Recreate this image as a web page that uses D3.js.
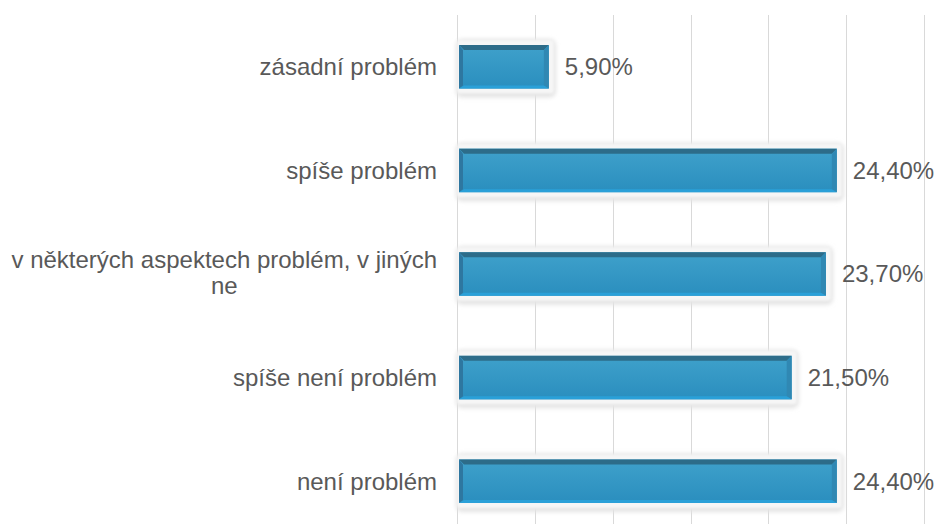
<!DOCTYPE html>
<html><head><meta charset="utf-8">
<script src="https://cdn.jsdelivr.net/npm/d3@7"></script>
<style>html,body{margin:0;padding:0;background:#fff;}svg{display:block;}</style>
</head><body>
<svg id="chart" width="938" height="524"></svg>
<script>
const categories = ["zásadní problém", "spíše problém", "v některých aspektech problém, v jiných ne", "spíše není problém", "není problém"];
const values = [5.9, 24.4, 23.7, 21.5, 24.4];
const valueLabels = ["5,90%", "24,40%", "23,70%", "21,50%", "24,40%"];
const tickValues = [0, 5, 10, 15, 20, 25, 30];

const W = 938, H = 524;
const svg = d3.select("#chart");
const font = "'Liberation Sans', Arial, sans-serif";
const fs = 24;

const x = d3.scaleLinear().domain([0, 30]).range([457, 924]);
const y = d3.scaleBand().domain(categories).range([15, 533]).paddingInner(0.58).paddingOuter(0.29);

const defs = svg.append("defs");
const blur = defs.append("filter").attr("id", "glow").attr("x", "-10%").attr("y", "-50%").attr("width", "120%").attr("height", "200%");
blur.append("feGaussianBlur").attr("stdDeviation", 2);
const blur2 = defs.append("filter").attr("id", "glow2").attr("x", "-10%").attr("y", "-50%").attr("width", "120%").attr("height", "200%");
blur2.append("feGaussianBlur").attr("stdDeviation", 1);
const grad = defs.append("linearGradient").attr("id", "fillg").attr("x1", 0).attr("y1", 0).attr("x2", 0).attr("y2", 1);
grad.append("stop").attr("offset", "0%").attr("stop-color", "#3fa1cb");
grad.append("stop").attr("offset", "100%").attr("stop-color", "#2a8ebe");

// gridlines
svg.append("g").selectAll("line").data(tickValues).join("line")
  .attr("x1", d => Math.round(x(d)) + 0.5).attr("x2", d => Math.round(x(d)) + 0.5)
  .attr("y1", 15).attr("y2", H)
  .attr("stroke", "#d9d9d9").attr("stroke-width", 1);

const g = svg.append("g").selectAll("g").data(categories).join("g");

// glow / shadow
g.append("rect")
  .attr("x", x(0) - 1)
  .attr("y", d => y(d) - 6)
  .attr("width", (d, i) => x(values[i]) - x(0) + 8)
  .attr("height", y.bandwidth() + 15)
  .attr("rx", 6)
  .attr("fill", "#e4e4e4")
  .attr("filter", "url(#glow)");
g.append("rect")
  .attr("x", x(0))
  .attr("y", d => y(d) - 5)
  .attr("width", (d, i) => x(values[i]) - x(0) + 5)
  .attr("height", y.bandwidth() + 10)
  .attr("rx", 3)
  .attr("fill", "#f6f6f6")
  .attr("filter", "url(#glow2)");

// bar body
g.append("rect")
  .attr("x", x(0) + 2)
  .attr("y", d => y(d))
  .attr("width", (d, i) => x(values[i]) - x(0) - 2)
  .attr("height", y.bandwidth())
  .attr("fill", "url(#fillg)");

// bevels
const bw = 5;
function bevel(sel, side, color) {
  sel.append("polygon")
    .attr("points", (d, i) => {
      const x0 = x(0) + 2, x1 = x(values[i]), y0 = y(d), y1 = y(d) + y.bandwidth();
      if (side === "top") return [[x0, y0], [x1, y0], [x1 - bw, y0 + bw], [x0 + bw, y0 + bw]].join(" ");
      if (side === "bottom") return [[x0, y1], [x1, y1], [x1 - bw, y1 - 3], [x0 + bw, y1 - 3]].join(" ");
      if (side === "left") return [[x0, y0], [x0 + 4, y0 + bw], [x0 + 4, y1 - 3], [x0, y1]].join(" ");
      return [[x1, y0], [x1 - bw, y0 + bw], [x1 - bw, y1 - 3], [x1, y1]].join(" ");
    })
    .attr("fill", color);
}
bevel(g, "top", "#2d6c89");
bevel(g, "left", "#2e77a0");
bevel(g, "right", "#3088b3");
bevel(g, "bottom", "#2aa0d8");

// value labels
g.append("text")
  .attr("x", (d, i) => x(values[i]) + 16)
  .attr("y", d => y(d) + y.bandwidth() / 2)
  .attr("dy", "0.35em")
  .attr("font-family", font).attr("font-size", fs).attr("fill", "#595959")
  .text((d, i) => valueLabels[i]);

// category labels with wrapping
const maxW = 432, labelRight = 437, lineH = 26;
g.each(function(d) {
  const sel = d3.select(this);
  const t = sel.append("text")
    .attr("font-family", font).attr("font-size", fs).attr("fill", "#595959");
  const words = d.split(" ");
  let lines = [], cur = [];
  const probe = t.append("tspan");
  words.forEach(w => {
    const test = cur.concat([w]).join(" ");
    probe.text(test);
    if (probe.node().getComputedTextLength() > maxW && cur.length) { lines.push(cur.join(" ")); cur = [w]; }
    else cur.push(w);
  });
  lines.push(cur.join(" "));
  probe.remove();
  const cy = y(d) + y.bandwidth() / 2;
  if (lines.length === 1) {
    t.append("tspan").attr("x", labelRight).attr("y", cy).attr("dy", "0.35em").attr("text-anchor", "end").text(lines[0]);
  } else {
    const widths = lines.map(l => { const p = t.append("tspan").text(l); const w = p.node().getComputedTextLength(); p.remove(); return w; });
    const blockW = d3.max(widths);
    const cx = labelRight - blockW / 2;
    lines.forEach((l, k) => {
      t.append("tspan").attr("x", cx).attr("text-anchor", "middle")
        .attr("y", cy - 1 + (k - (lines.length - 1) / 2) * lineH).attr("dy", "0.35em").text(l);
    });
  }
});
</script>
</body></html>
